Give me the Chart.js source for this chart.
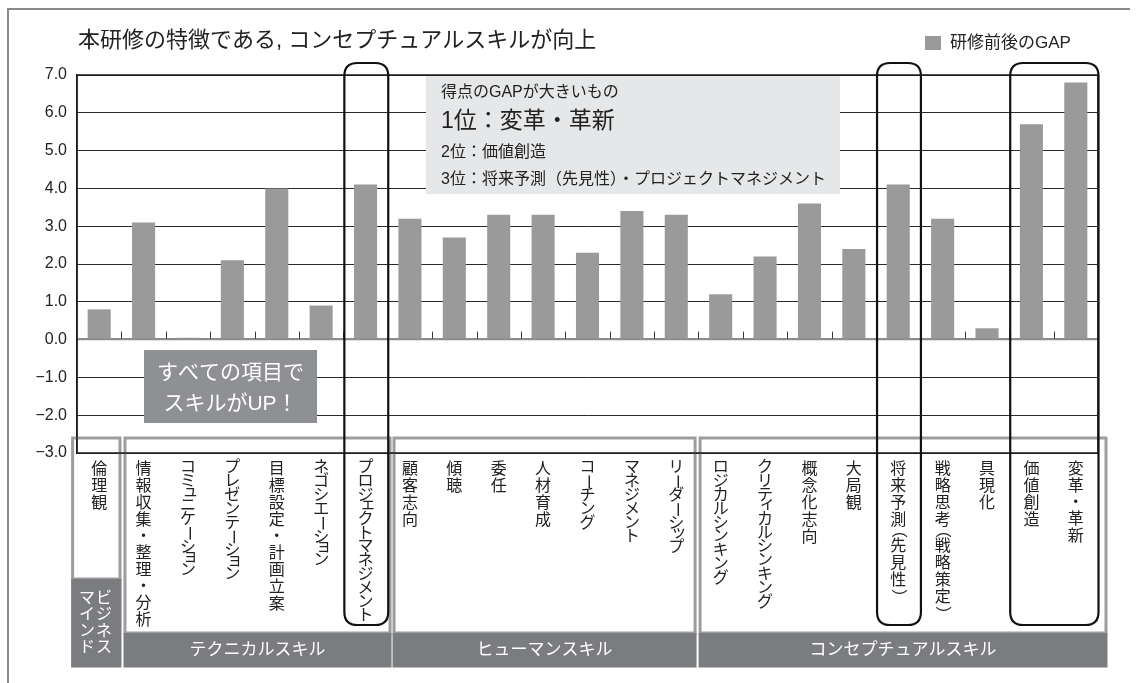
<!DOCTYPE html>
<html><head><meta charset="utf-8">
<script src="https://cdn.jsdelivr.net/npm/chart.js@4"></script>
<style>html,body{margin:0;padding:0;background:#fff}canvas{display:block}</style>
</head><body>
<canvas id="c" width="1138" height="683"></canvas>
<script>
// ---------- data ----------
const categories = ['倫理観','情報収集・整理・分析','コミュニケーション','プレゼンテーション','目標設定・計画立案','ネゴシエーション','プロジェクトマネジメント','顧客志向','傾聴','委任','人材育成','コーチング','マネジメント','リーダーシップ','ロジカルシンキング','クリティカルシンキング','概念化志向','大局観','将来予測（先見性）','戦略思考（戦略策定）','具現化','価値創造','変革・革新'];
const gapValues = [0.8,3.1,0.05,2.1,4.0,0.9,4.1,3.2,2.7,3.3,3.3,2.3,3.4,3.3,1.2,2.2,3.6,2.4,4.1,3.2,0.3,5.7,6.8];
const yTickLabels = ['−3.0','−2.0','−1.0','0.0','1.0','2.0','3.0','4.0','5.0','6.0','7.0'];
const groupNames = ['ビジネスマインド','テクニカルスキル','ヒューマンスキル','コンセプチュアルスキル'];
const groupStart = [0,1,7,14];
const groupEnd = [0,6,13,22];
const highlightStart = [6,18,21];
const highlightEnd = [6,18,22];
const seriesName = '研修前後のGAP';
const titleText = '本研修の特徴である, コンセプチュアルスキルが向上';
const noteLines = ['得点のGAPが大きいもの','1位：変革・革新','2位：価値創造','3位：将来予測（先見性）・プロジェクトマネジメント'];
const badgeLines = ['すべての項目で','スキルがUP！'];

// ---------- styles ----------
const JP = "'Liberation Sans','Noto Sans CJK JP',sans-serif";
const groupOffL = [-4.4, 3.6, 6.3, 1.6];
const groupOffR = [-1.4, 2.3, -3.4, 8];
const SMALL = 'ァィゥェォッャュョヮぁぃぅぇぉっゃゅょ';
const ROT = 'ー（）〜';

function adv(ch){
  if (ch === 'ー') return 14;
  if (ch === '（' || ch === '）') return 9;
  if (ch === '・') return 16;
  if (SMALL.includes(ch)) return 10;
  if (/[\u3040-\u30FF]/.test(ch)) return 13.8;
  return 17;
}
function drawVertical(ctx, text, x, y0, stepFn){
  let y = y0;
  for (const ch of text){
    const a = stepFn ? stepFn(ch) : adv(ch);
    const cy = y + a/2;
    if (ROT.includes(ch)){
      const shift = ch === '（' ? -3.5 : (ch === '）' ? 3.5 : 0);
      ctx.save(); ctx.translate(x, cy + shift); ctx.rotate(Math.PI/2); ctx.fillText(ch, 0, 0); ctx.restore();
    } else if (SMALL.includes(ch)){
      ctx.fillText(ch, x + 2.5, cy - 2.5);
    } else {
      ctx.fillText(ch, x, cy);
    }
    y += a;
  }
}
function roundRect(ctx, x, y, w, h, r){
  ctx.beginPath();
  ctx.moveTo(x+r, y); ctx.lineTo(x+w-r, y); ctx.quadraticCurveTo(x+w, y, x+w, y+r);
  ctx.lineTo(x+w, y+h-r); ctx.quadraticCurveTo(x+w, y+h, x+w-r, y+h);
  ctx.lineTo(x+r, y+h); ctx.quadraticCurveTo(x, y+h, x, y+h-r);
  ctx.lineTo(x, y+r); ctx.quadraticCurveTo(x, y, x+r, y);
  ctx.closePath();
}

const deco = {
  id: 'deco',
  afterDraw(chart){
    const ctx = chart.ctx, a = chart.chartArea, xs = chart.scales.x, ys = chart.scales.y;
    const cw = xs.getPixelForValue(1) - xs.getPixelForValue(0);
    const bL = i => xs.getPixelForValue(i) - cw/2;
    const y0 = ys.getPixelForValue(0);
    ctx.save();

    // boundary ticks on zero line
    ctx.strokeStyle = '#333'; ctx.lineWidth = 1;
    for (let i = 1; i < categories.length; i++){
      const x = Math.round(bL(i)) + 0.5;
      ctx.beginPath(); ctx.moveTo(x, y0 - 8); ctx.lineTo(x, y0 - 1); ctx.stroke();
    }

    // note box
    ctx.fillStyle = '#e6e7e8';
    ctx.fillRect(a.left + 349, a.top + 1, 414, 118);
    ctx.fillStyle = '#222'; ctx.textBaseline = 'middle'; ctx.textAlign = 'left';
    ctx.font = '16px ' + JP; ctx.fillText(noteLines[0], 441, 93);
    ctx.font = '23px ' + JP; ctx.fillText(noteLines[1], 441, 122);
    ctx.font = '16px ' + JP; ctx.fillText(noteLines[2], 441, 153);
    ctx.fillText(noteLines[3], 441, 180);

    // badge
    ctx.fillStyle = '#8f9093';
    ctx.fillRect(144, 350, 173, 73);
    ctx.fillStyle = '#fff'; ctx.textAlign = 'center';
    ctx.font = '21px ' + JP;
    ctx.fillText(badgeLines[0], 230.5, 373);
    ctx.fillText(badgeLines[1], 230.5, 404);

    // group boxes
    for (let g = 0; g < groupNames.length; g++){
      const x1 = bL(groupStart[g]) + groupOffL[g];
      const x2 = bL(groupEnd[g] + 1) + groupOffR[g];
      const top = 438, bot = 666, bandTop = g === 0 ? 579 : 633;
      ctx.strokeStyle = '#9d9d9d'; ctx.lineWidth = 3;
      ctx.strokeRect(x1, top, x2 - x1, bandTop - top);
      ctx.fillStyle = '#7b7c80';
      ctx.fillRect(x1 - 1.5, bandTop, x2 - x1 + 3, bot - bandTop + 1.5);
      ctx.fillStyle = '#fff';
      if (g === 0){
        ctx.font = '16px ' + JP; ctx.textAlign = 'center';
        const name = groupNames[g], half = Math.ceil(name.length/2);
        drawVertical(ctx, name.slice(0, half), 104, 590, () => 16.5);
        drawVertical(ctx, name.slice(half), 87, 590, () => 16.5);
      } else {
        ctx.font = '17px ' + JP; ctx.textAlign = 'center';
        ctx.fillText(groupNames[g], (x1 + x2)/2, 650);
      }
    }

    // plot border
    ctx.strokeStyle = '#1a1a1a'; ctx.lineWidth = 1.5;
    ctx.strokeRect(a.left, a.top, a.right - a.left, a.bottom - a.top);

    // category labels (vertical)
    ctx.fillStyle = '#222'; ctx.font = '16px ' + JP; ctx.textAlign = 'center'; ctx.textBaseline = 'middle';
    categories.forEach((c, i) => drawVertical(ctx, c, xs.getPixelForValue(i), 461));

    // highlight rounded boxes
    ctx.strokeStyle = '#111'; ctx.lineWidth = 2.2;
    for (let h = 0; h < highlightStart.length; h++){
      const x1 = bL(highlightStart[h]) + 1, x2 = bL(highlightEnd[h] + 1) + 0.5;
      roundRect(ctx, x1, 63, x2 - x1, 625 - 63, 13);
      ctx.stroke();
    }

    // title
    ctx.fillStyle = '#222'; ctx.textAlign = 'left'; ctx.textBaseline = 'middle';
    ctx.font = '22px ' + JP; ctx.fillText(titleText, 78, 41);

    // legend
    ctx.fillStyle = '#9a9a9a'; ctx.fillRect(925, 36, 16, 14);
    ctx.fillStyle = '#222'; ctx.font = '17px ' + JP; ctx.fillText(seriesName, 950, 43);

    // outer frame
    ctx.strokeStyle = '#8a8a8a'; ctx.lineWidth = 2;
    ctx.beginPath(); ctx.moveTo(7, 9); ctx.lineTo(1130, 9); ctx.moveTo(8, 9); ctx.lineTo(8, 683); ctx.stroke();
    ctx.restore();
  }
};

new Chart(document.getElementById('c'), {
  type: 'bar',
  data: { labels: categories, datasets: [{ label: seriesName, data: gapValues, backgroundColor: '#9a9a9a', barPercentage: 0.52, categoryPercentage: 1 }] },
  options: {
    responsive: false, animation: false, devicePixelRatio: 1,
    layout: { padding: { top: 75, right: 40, bottom: 230, left: 0 } },
    plugins: { legend: { display: false }, tooltip: { enabled: false } },
    scales: {
      x: { display: false, offset: true },
      y: {
        min: -3, max: 7,
        afterFit(s){ s.width = 77; },
        ticks: { stepSize: 1, padding: 10, color: '#222', font: { family: 'Liberation Sans', size: 16 },
                 callback: v => yTickLabels[Math.round(v) + 3] },
        grid: { drawTicks: false,
                color: c => (c.tick && c.tick.value === 0) ? '#8c8c8c' : '#2a2a2a',
                lineWidth: c => (c.tick && c.tick.value === 0) ? 2.2 : 1 },
        border: { display: true, color: '#222', width: 1.5 }
      }
    }
  },
  plugins: [deco]
});
</script>
</body></html>
